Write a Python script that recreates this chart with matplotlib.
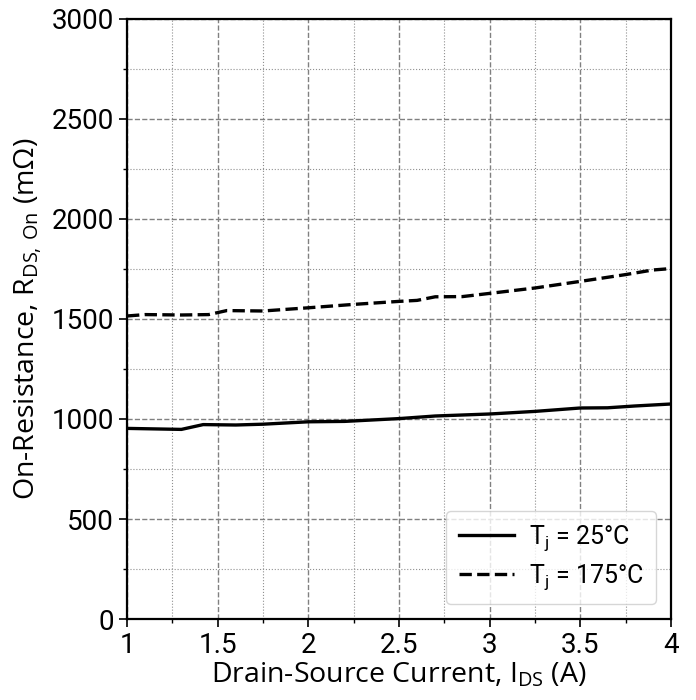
import numpy as np
import matplotlib
matplotlib.use('Agg')
from matplotlib import pyplot as plt
from matplotlib.ticker import MultipleLocator

# Tj = 25 C
i_25 = [1.0, 1.3, 1.42, 1.6, 1.75, 2.0, 2.2, 2.5, 2.7, 3.0, 3.25, 3.5, 3.65, 3.8, 4.0]
r_25 = [953, 948, 972, 970, 974, 986, 988, 1002, 1015, 1025, 1038, 1055, 1056, 1065, 1075]

# Tj = 175 C
i_175 = [1.0, 1.1, 1.3, 1.45, 1.55, 1.75, 2.0, 2.25, 2.5, 2.6, 2.7, 2.85, 3.0, 3.25, 3.5, 3.75, 3.9, 4.0]
r_175 = [1515, 1522, 1520, 1522, 1542, 1540, 1556, 1573, 1588, 1593, 1611, 1612, 1628, 1655, 1688, 1722, 1745, 1752]

tick_font = ['Roboto', 'DejaVu Sans']
label_font = ['Open Sans', 'DejaVu Sans']

plt.rcParams['font.family'] = tick_font

fig = plt.figure(figsize=(6.96, 7.0), dpi=100)
ax = fig.add_axes([0.1825, 0.1157, 0.7815, 0.8572])

ax.plot(i_25, r_25, color='black', lw=2.4, ls='-', label=r'T$_\mathregular{j}$ = 25°C')
ax.plot(i_175, r_175, color='black', lw=2.4, ls='--', label=r'T$_\mathregular{j}$ = 175°C')

ax.set_xlim(1, 4)
ax.set_ylim(0, 3000)
ax.xaxis.set_major_locator(MultipleLocator(0.5))
ax.xaxis.set_minor_locator(MultipleLocator(0.25))
ax.yaxis.set_major_locator(MultipleLocator(500))
ax.yaxis.set_minor_locator(MultipleLocator(250))
ax.set_xticks([1, 1.5, 2, 2.5, 3, 3.5, 4], ['1', '1.5', '2', '2.5', '3', '3.5', '4'])

ax.grid(which='major', color='#808080', ls='--', lw=1.0)
ax.grid(which='minor', color='#909090', ls=':', lw=0.8)
ax.set_axisbelow(True)

ax.tick_params(which='major', length=6, width=1.2, labelsize=20, direction='out')
ax.tick_params(which='minor', length=3, width=1.0, direction='out')
for s in ax.spines.values():
    s.set_linewidth(1.6)

ax.set_xlabel(r'Drain-Source Current, I$_\mathregular{DS}$ (A)', family=label_font, fontsize=20.5, labelpad=1)
ax.set_ylabel(r'On-Resistance, R$_\mathregular{DS,\,On}$ (mΩ)', family=label_font, fontsize=20.5, labelpad=5)

ax.legend(loc='lower right', fontsize=18, handlelength=2.2, handletextpad=0.6, borderpad=0.5,
          labelspacing=0.35, framealpha=0.8, borderaxespad=0.6)

plt.savefig('out.png', dpi=100)
